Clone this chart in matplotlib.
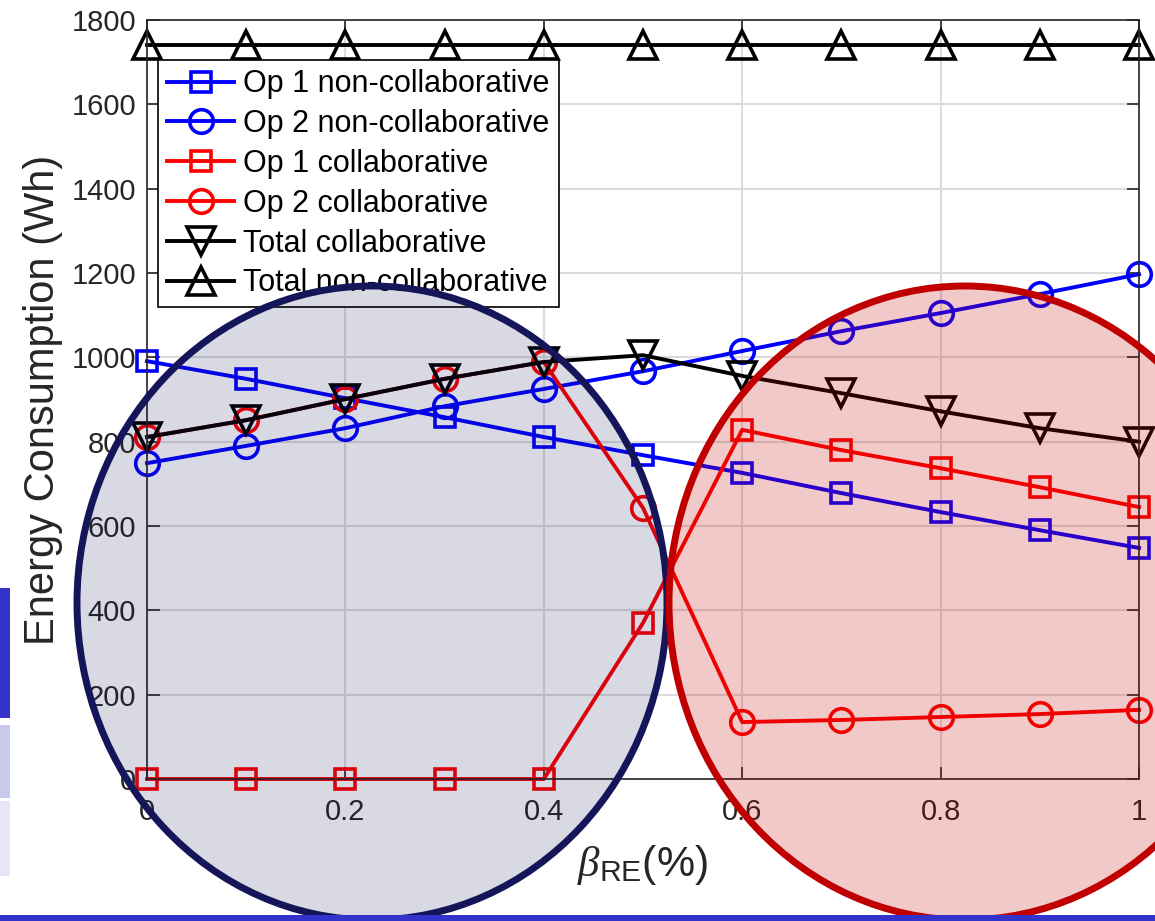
import matplotlib
matplotlib.use("Agg")
import matplotlib.pyplot as plt
from matplotlib.patches import Ellipse, Rectangle

plt.rcParams['font.family'] = ['Liberation Sans', 'DejaVu Sans']
plt.rcParams['mathtext.fontset'] = 'custom'
plt.rcParams['mathtext.rm'] = 'Liberation Sans'
plt.rcParams['mathtext.it'] = 'Liberation Serif:italic'

beta = [0.0, 0.1, 0.2, 0.3, 0.4, 0.5, 0.6, 0.7, 0.8, 0.9, 1.0]
op1_noncollab = [991, 949, 903, 858, 811, 768, 726, 678, 633, 590, 548]
op2_noncollab = [749, 790, 832, 884, 925, 967, 1015, 1062, 1105, 1150, 1197]
op1_collab = [0, 0, 0, 0, 0, 370, 828, 780, 737, 692, 645]
op2_collab = [811, 851, 901, 949, 989, 643, 135, 140, 147, 154, 164]
total_collab = [811, 851, 901, 949, 989, 1005, 956, 915, 872, 832, 800]
total_noncollab = [1740, 1740, 1740, 1740, 1740, 1740, 1740, 1740, 1740, 1740, 1740]

labels = ["Op 1 non-collaborative", "Op 2 non-collaborative",
          "Op 1 collaborative", "Op 2 collaborative",
          "Total collaborative", "Total non-collaborative"]
xticks = [0, 0.2, 0.4, 0.6, 0.8, 1.0]
xticklabels = ["0", "0.2", "0.4", "0.6", "0.8", "1"]
yticks = [0, 200, 400, 600, 800, 1000, 1200, 1400, 1600, 1800]

W, H = 1155, 921
fig = plt.figure(figsize=(W / 100, H / 100), dpi=100)
ax = fig.add_axes([147 / W, (H - 779) / H, (1139 - 147) / W, (779 - 20) / H])

lw = 2.8
mew = 2.6
common = dict(mfc='none', mew=mew, lw=lw, clip_on=False)
ax.plot(beta, op1_noncollab, color='#0000ff', marker='s', ms=15, label=labels[0], **common)
ax.plot(beta, op2_noncollab, color='#0000ff', marker='o', ms=17, label=labels[1], **common)
ax.plot(beta, op1_collab, color='#ff0000', marker='s', ms=15, label=labels[2], **common)
ax.plot(beta, op2_collab, color='#ff0000', marker='o', ms=17, label=labels[3], **common)
ax.plot(beta, total_collab, color='black', marker='v', ms=20, label=labels[4], **common)
ax.plot(beta, total_noncollab, color='black', marker='^', ms=20, label=labels[5], **common)

ax.set_xlim(0, 1)
ax.set_ylim(0, 1800)
ax.set_xticks(xticks)
ax.set_xticklabels(xticklabels)
ax.set_yticks(yticks)
ax.grid(True, color='#dcdcdc', lw=1.5)
ax.set_axisbelow(True)
ax.tick_params(direction='in', length=9, width=1.2, colors='#262626', labelsize=21,
               top=True, right=True)
ax.tick_params(axis='x', pad=14)
ax.tick_params(axis='y', pad=8)
for s in ax.spines.values():
    s.set_color('#262626')
    s.set_linewidth(1.2)

ax.set_ylabel("Energy Consumption (Wh)", fontsize=30, color='#262626', labelpad=6)
ax.set_xlabel(r"$\beta_{\mathrm{RE}}$(%)", fontsize=31, color='#262626', labelpad=12)

leg = ax.legend(loc='upper left', bbox_to_anchor=(0.011, 0.947), fontsize=22,
                frameon=True, fancybox=False, framealpha=1, edgecolor='black',
                handlelength=2.2, handletextpad=0.3, labelspacing=0.32,
                borderpad=0.3, borderaxespad=0)
leg.get_frame().set_linewidth(1.2)

# overlay ellipses (figure pixel coordinates)
def px_ellipse(cx, cy, w, h, fc, alpha, ec):
    fill = Ellipse((cx / W, (H - cy) / H), w / W, h / H, transform=fig.transFigure,
                   facecolor=fc, alpha=alpha, edgecolor='none', zorder=10)
    edge = Ellipse((cx / W, (H - cy) / H), w / W, h / H, transform=fig.transFigure,
                   facecolor='none', edgecolor=ec, lw=5, zorder=11)
    fig.patches.extend([fill, edge])

px_ellipse(372, 603, 590, 634, '#14145a', 0.16, '#15155a')
px_ellipse(965, 603, 592, 634, '#c00000', 0.21, '#c00000')

# slide decorations
fig.patches.append(Rectangle((0, (H - 718) / H), 10 / W, 130 / H, transform=fig.transFigure,
                             facecolor='#3333cc', edgecolor='none', zorder=5))
fig.patches.append(Rectangle((0, (H - 798) / H), 10 / W, 73 / H, transform=fig.transFigure,
                             facecolor='#c9c9ec', edgecolor='none', zorder=5))
fig.patches.append(Rectangle((0, (H - 876) / H), 10 / W, 75 / H, transform=fig.transFigure,
                             facecolor='#e6e6f6', edgecolor='none', zorder=5))
fig.patches.append(Rectangle((0, 0), 1, 6 / H, transform=fig.transFigure,
                             facecolor='#3333cc', edgecolor='none', zorder=12))

fig.savefig("out.png", dpi=100)
